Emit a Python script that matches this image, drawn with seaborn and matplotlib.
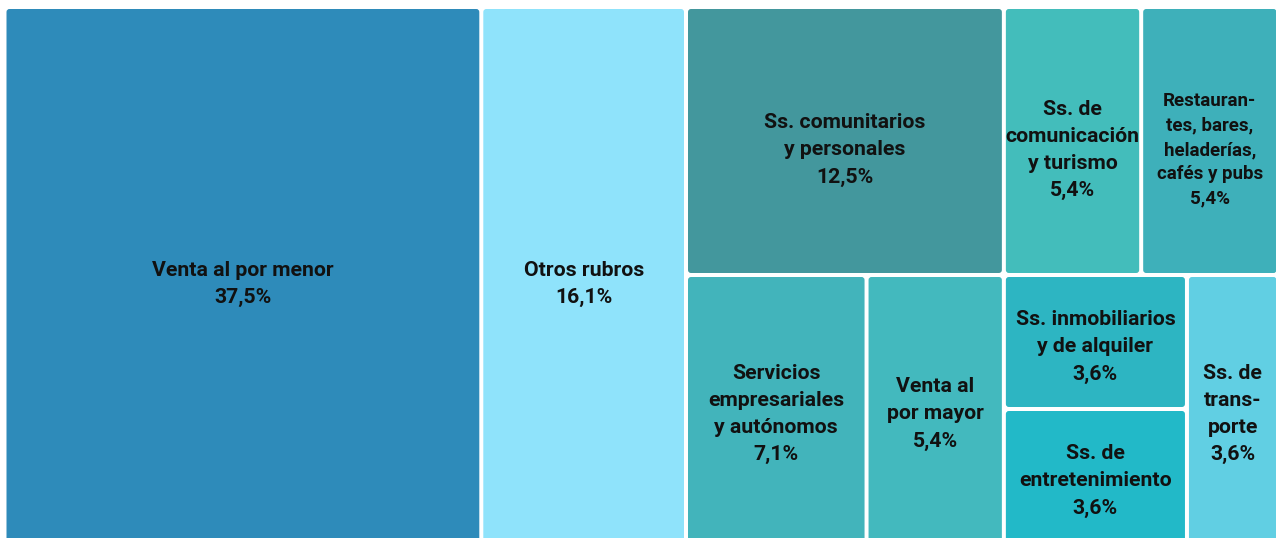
import matplotlib
matplotlib.use("Agg")
import matplotlib.pyplot as plt
from matplotlib.patches import FancyBboxPatch
import seaborn as sns

# ---- data ----
categorias = [
    "Venta al por menor", "Otros rubros", "Ss. comunitarios y personales",
    "Ss. de comunicación y turismo", "Restaurantes, bares, heladerías, cafés y pubs",
    "Servicios empresariales y autónomos", "Venta al por mayor",
    "Ss. inmobiliarios y de alquiler", "Ss. de entretenimiento", "Ss. de transporte",
]
valores = [37.5, 16.1, 12.5, 5.4, 5.4, 7.1, 5.4, 3.6, 3.6, 3.6]
etiquetas = [
    "Venta al por menor", "Otros rubros", "Ss. comunitarios\ny personales",
    "Ss. de\ncomunicación\ny turismo", "Restauran-\ntes, bares,\nheladerías,\ncafés y pubs",
    "Servicios\nempresariales\ny autónomos", "Venta al\npor mayor",
    "Ss. inmobiliarios\ny de alquiler", "Ss. de\nentretenimiento", "Ss. de\ntrans-\nporte",
]
colores = ["#2E8BBA", "#8FE3FB", "#43979D", "#43BDBB", "#3EB0BA",
           "#42B4BB", "#43B9BE", "#2DB5C2", "#22B9C8", "#61CFE3"]
# nesting of tiles (indices into the lists above), alternating direction
estructura = [0, 1, [[2, 3, 4], [5, 6, [7, 8], 9]]]

sns.set_theme(style="white")
plt.rcParams["font.family"] = ["Roboto", "DejaVu Sans"]

def valor(nodo):
    if isinstance(nodo, int):
        return valores[nodo]
    return sum(valor(c) for c in nodo)

def layout(nodo, x, y, w, h, horizontal, out):
    if isinstance(nodo, int):
        out[nodo] = (x, y, w, h)
        return
    total = valor(nodo)
    pos = 0.0
    for c in nodo:
        f = valor(c) / total
        if horizontal:
            layout(c, x + pos * w, y, f * w, h, not horizontal, out)
        else:
            layout(c, x, y + pos * h, w, f * h, not horizontal, out)
        pos += f

fig = plt.figure(figsize=(12.76, 5.38), dpi=100)
fig.patch.set_facecolor("white")
ax = fig.add_axes([0, 0, 1, 1])
ax.set_xlim(0, 1276)
ax.set_ylim(538, 0)
ax.axis("off")

rects = {}
layout(estructura, 4.5, 7.0, 1274.0, 536.0, True, rects)

gap = 2.0
for i in range(len(valores)):
    x, y, w, h = rects[i]
    p = FancyBboxPatch((x + gap, y + gap), w - 2 * gap, h - 2 * gap,
                       boxstyle="round,pad=0,rounding_size=3",
                       facecolor=colores[i], edgecolor="none")
    ax.add_patch(p)
    if i == 4:
        fs, ls = 13.5, 1.45
    else:
        fs, ls = 15.3, 1.53
    dy = 9 if y < 100 else 5
    txt = etiquetas[i] + "\n" + f"{valores[i]:.1f}".replace(".", ",") + "%"
    ax.text(x + w / 2, y + h / 2 + dy, txt, ha="center", va="center",
            fontsize=fs, fontweight="bold", color="#111111",
            linespacing=ls, multialignment="center")

fig.savefig("out.png", dpi=100, facecolor="white")
